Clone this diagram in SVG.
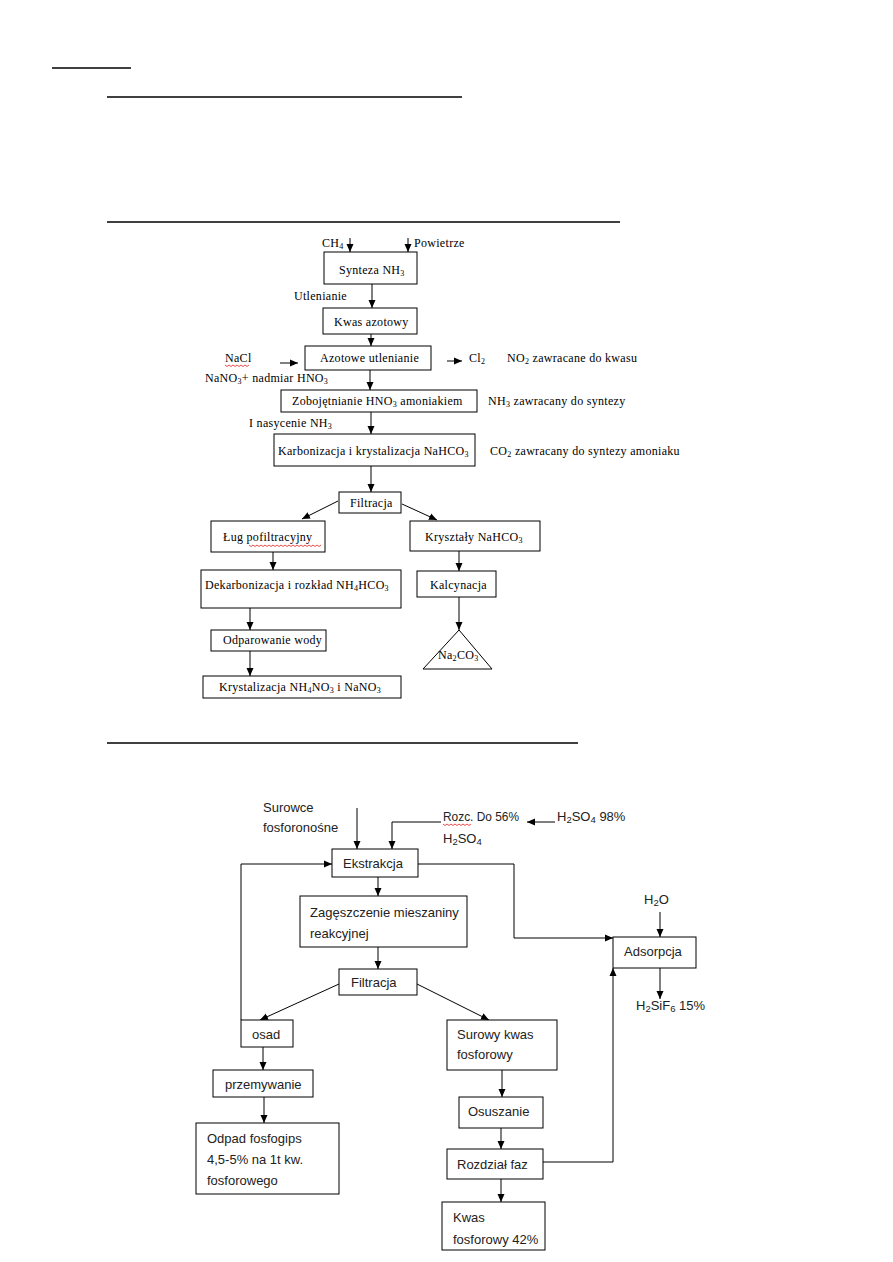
<svg xmlns="http://www.w3.org/2000/svg" width="893" height="1262" viewBox="0 0 893 1262">
<defs>
<marker id="ah" markerUnits="userSpaceOnUse" markerWidth="8" markerHeight="8" refX="8" refY="4" orient="auto">
<path d="M0,0.5 L8,4 L0,7.5 z" fill="#000"/>
</marker>
<style>
.box{fill:#fff;stroke:#000;stroke-width:1}
.c{fill:none;stroke:#000;stroke-width:1;marker-end:url(#ah)}
.ln{fill:none;stroke:#000;stroke-width:1}
.rule{stroke:#000;stroke-width:1.3}
.s{font-family:"Liberation Serif","Times New Roman",serif;font-size:12px;letter-spacing:0.3px;fill:#000}
.a{font-family:"Liberation Sans",Arial,sans-serif;font-size:13px;fill:#222}
.sub{font-size:8px}
.a .sub{font-size:9.5px}
.wavy{fill:none;stroke:#d00;stroke-width:0.7}
</style>
</defs>
<rect width="893" height="1262" fill="#fff"/>
<g id="rules">
<line class="rule" x1="52" y1="68" x2="131" y2="68"/>
<line class="rule" x1="107" y1="97" x2="462" y2="97"/>
<line class="rule" x1="107" y1="222" x2="620" y2="222"/>
<line class="rule" x1="107" y1="743" x2="578" y2="743"/>
</g>
<g id="connectors">
<path class="c" d="M350,238 V252"/>
<path class="c" d="M408,238 V252"/>
<path class="c" d="M372,284 V308"/>
<path class="c" d="M371,334 V346"/>
<path class="c" d="M280,363 H298"/>
<path class="c" d="M447,361 H462"/>
<path class="c" d="M370,370 V390"/>
<path class="c" d="M371,412 V434"/>
<path class="c" d="M371,466 V492"/>
<path class="c" d="M338,501 L302,519"/>
<path class="c" d="M402,504 L437,520"/>
<path class="c" d="M273,552 V570"/>
<path class="c" d="M459,551 V571"/>
<path class="c" d="M459,597 V630"/>
<path class="c" d="M250,608 V630"/>
<path class="c" d="M250,651 V676"/>
<path class="c" d="M357,808 V849"/>
<path class="c" d="M441,822 H392 V849"/>
<path class="c" d="M555,822 H527"/>
<path class="c" d="M241,1020 V864 H332"/>
<path class="c" d="M418,864 H514 V938 H613"/>
<path class="c" d="M378,877 V896"/>
<path class="c" d="M660,912 V937"/>
<path class="c" d="M378,947 V969"/>
<path class="c" d="M339,984 L260,1020"/>
<path class="c" d="M417,984 L489,1020"/>
<path class="c" d="M660,968 V999"/>
<path class="c" d="M263,1047 V1070"/>
<path class="c" d="M502,1070 V1097"/>
<path class="c" d="M264,1097 V1123"/>
<path class="c" d="M501,1128 V1149"/>
<path class="c" d="M543,1162 H613 V968"/>
<path class="c" d="M501,1179 V1202"/>
</g>
<g id="top-labels">
<text class="s" x="322" y="247">CH<tspan class="sub" dy="2">4</tspan></text>
<text class="s" x="414" y="247">Powietrze</text>
<text class="s" x="294" y="300">Utlenianie</text>
<text class="s" x="225" y="362">NaCl</text>
<text class="s" x="469" y="362">Cl<tspan class="sub" dy="2">2</tspan></text>
<text class="s" x="507" y="362">NO<tspan class="sub" dy="2">2</tspan><tspan dy="-2"> zawracane do kwasu</tspan></text>
<text class="s" x="205" y="382">NaNO<tspan class="sub" dy="2">3</tspan><tspan dy="-2">+ nadmiar  HNO</tspan><tspan class="sub" dy="2">3</tspan></text>
<text class="s" x="488" y="405">NH<tspan class="sub" dy="2">3</tspan><tspan dy="-2"> zawracany do syntezy</tspan></text>
<text class="s" x="249" y="427">I nasycenie NH<tspan class="sub" dy="2">3</tspan></text>
<text class="s" x="490" y="455">CO<tspan class="sub" dy="2">2</tspan><tspan dy="-2"> zawracany do syntezy amoniaku</tspan></text>
</g>
<g id="synteza"><rect class="box" x="324" y="252" width="93" height="32"/><text class="s" x="339" y="274">Synteza NH<tspan class="sub" dy="2">3</tspan></text></g>
<g id="kwas-azotowy"><rect class="box" x="323" y="308" width="94" height="26"/><text class="s" x="334" y="326" letter-spacing="0.7">Kwas azotowy</text></g>
<g id="azotowe"><rect class="box" x="305" y="346" width="126" height="24"/><text class="s" x="320" y="362">Azotowe utlenianie</text></g>
<g id="zobojetnianie"><rect class="box" x="281" y="390" width="196" height="22"/><text class="s" x="292" y="405">Zobojętnianie HNO<tspan class="sub" dy="2">3</tspan><tspan dy="-2"> amoniakiem</tspan></text></g>
<g id="karbonizacja"><rect class="box" x="274" y="434" width="201" height="32"/><text class="s" x="278" y="455">Karbonizacja i krystalizacja NaHCO<tspan class="sub" dy="2">3</tspan></text></g>
<g id="filtracja1"><rect class="box" x="339" y="492" width="62" height="21"/><text class="s" x="350" y="507">Filtracja</text></g>
<g id="lug"><rect class="box" x="211" y="521" width="114" height="31"/><text class="s" x="223" y="541">Ług pofiltracyjny</text></g>
<g id="krysztaly"><rect class="box" x="410" y="521" width="130" height="30"/><text class="s" x="425" y="541">Kryształy NaHCO<tspan class="sub" dy="2">3</tspan></text></g>
<g id="dekarbonizacja"><rect class="box" x="201" y="570" width="200" height="38"/><text class="s" x="205" y="589">Dekarbonizacja i rozkład  NH<tspan class="sub" dy="2">4</tspan><tspan dy="-2">HCO</tspan><tspan class="sub" dy="2">3</tspan></text></g>
<g id="kalcynacja"><rect class="box" x="417" y="571" width="79" height="26"/><text class="s" x="430" y="589">Kalcynacja</text></g>
<g id="na2co3"><path d="M459,630 L423,669 L492,669 z" fill="#fff" stroke="#000" stroke-width="1"/><text class="s" x="438" y="659">Na<tspan class="sub" dy="2">2</tspan><tspan dy="-2">CO</tspan><tspan class="sub" dy="2">3</tspan></text></g>
<g id="odparowanie"><rect class="box" x="211" y="630" width="115" height="21"/><text class="s" x="223" y="644">Odparowanie wody</text></g>
<g id="krystalizacja"><rect class="box" x="203" y="676" width="198" height="22"/><text class="s" x="219" y="691">Krystalizacja NH<tspan class="sub" dy="2">4</tspan><tspan dy="-2">NO</tspan><tspan class="sub" dy="2">3</tspan><tspan dy="-2"> i NaNO</tspan><tspan class="sub" dy="2">3</tspan></text></g>
<g id="bottom-labels">
<text class="a" x="263" y="812">Surowce</text>
<text class="a" x="263" y="832">fosforonośne</text>
<text class="a" x="443" y="821" textLength="76" lengthAdjust="spacingAndGlyphs">Rozc. Do 56%</text>
<text class="a" x="443" y="843">H<tspan class="sub" dy="2">2</tspan><tspan dy="-2">SO</tspan><tspan class="sub" dy="2">4</tspan></text>
<text class="a" x="557" y="821">H<tspan class="sub" dy="2">2</tspan><tspan dy="-2">SO</tspan><tspan class="sub" dy="2">4</tspan><tspan dy="-2"> 98%</tspan></text>
<text class="a" x="644" y="904">H<tspan class="sub" dy="2">2</tspan><tspan dy="-2">O</tspan></text>
<text class="a" x="636" y="1010">H<tspan class="sub" dy="2">2</tspan><tspan dy="-2">SiF</tspan><tspan class="sub" dy="2">6</tspan><tspan dy="-2"> 15%</tspan></text>
</g>
<g id="ekstrakcja"><rect class="box" x="332" y="849" width="86" height="28"/><text class="a" x="343" y="868">Ekstrakcja</text></g>
<g id="zageszczenie"><rect class="box" x="300" y="896" width="167" height="51" stroke="#555"/><text class="a" x="310" y="917">Zagęszczenie mieszaniny</text><text class="a" x="310" y="938">reakcyjnej</text></g>
<g id="adsorpcja"><rect class="box" x="613" y="937" width="83" height="31"/><text class="a" x="624" y="956">Adsorpcja</text></g>
<g id="filtracja2"><rect class="box" x="339" y="969" width="78" height="26"/><text class="a" x="351" y="987">Filtracja</text></g>
<g id="osad"><rect class="box" x="241" y="1020" width="52" height="27"/><text class="a" x="252" y="1039">osad</text></g>
<g id="surowy"><rect class="box" x="447" y="1020" width="110" height="50"/><text class="a" x="457" y="1039">Surowy kwas</text><text class="a" x="457" y="1059">fosforowy</text></g>
<g id="przemywanie"><rect class="box" x="213" y="1070" width="100" height="27"/><text class="a" x="225" y="1089">przemywanie</text></g>
<g id="osuszanie"><rect class="box" x="459" y="1097" width="84" height="31"/><text class="a" x="468" y="1116">Osuszanie</text></g>
<g id="odpad"><rect class="box" x="196" y="1123" width="143" height="71"/><text class="a" x="207" y="1143">Odpad fosfogips</text><text class="a" x="207" y="1164">4,5-5% na 1t kw.</text><text class="a" x="207" y="1185">fosforowego</text></g>
<g id="rozdzial"><rect class="box" x="447" y="1149" width="96" height="30"/><text class="a" x="457" y="1169">Rozdział faz</text></g>
<g id="kwas-fosforowy"><rect class="box" x="442" y="1202" width="103" height="48"/><text class="a" x="453" y="1222">Kwas</text><text class="a" x="453" y="1244">fosforowy 42%</text></g>
<g id="spellcheck">
<path class="wavy" d="M225,365 l2,1.5 l2,-1.5 l2,1.5 l2,-1.5 l2,1.5 l2,-1.5 l2,1.5 l2,-1.5 l2,1.5 l2,-1.5 l2,1.5 l2,-1.5"/>
<path class="wavy" d="M249,545 l2,1.5 l2,-1.5 l2,1.5 l2,-1.5 l2,1.5 l2,-1.5 l2,1.5 l2,-1.5 l2,1.5 l2,-1.5 l2,1.5 l2,-1.5 l2,1.5 l2,-1.5 l2,1.5 l2,-1.5 l2,1.5 l2,-1.5 l2,1.5 l2,-1.5 l2,1.5 l2,-1.5 l2,1.5 l2,-1.5 l2,1.5 l2,-1.5 l2,1.5 l2,-1.5 l2,1.5 l2,-1.5 l2,1.5 l2,-1.5 l2,1.5 l2,-1.5 l2,1.5 l2,-1.5"/>
<path class="wavy" d="M443,824 l2,1.5 l2,-1.5 l2,1.5 l2,-1.5 l2,1.5 l2,-1.5 l2,1.5 l2,-1.5 l2,1.5 l2,-1.5 l2,1.5 l2,-1.5 l2,1.5 l2,-1.5"/>
</g>
</svg>
